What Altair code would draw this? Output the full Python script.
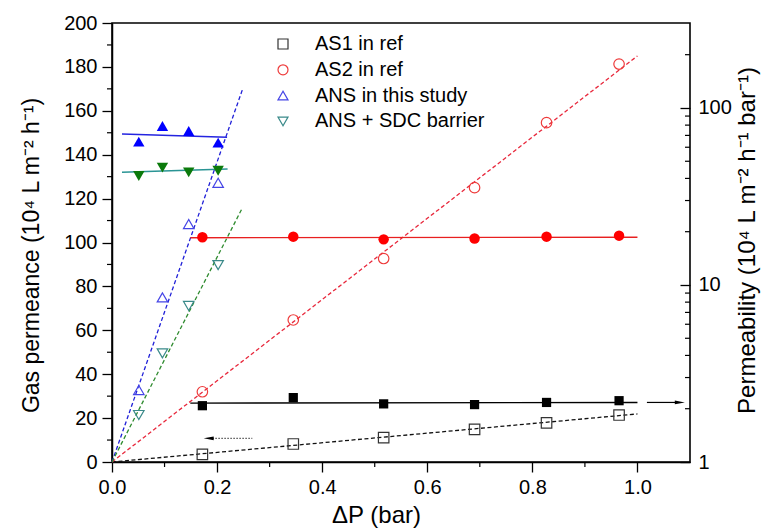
import altair as alt
import pandas as pd

# ---------------- data ----------------
series_names = ["AS1 in ref", "AS2 in ref", "ANS in this study", "ANS + SDC barrier"]

dp_as = [0.172, 0.345, 0.517, 0.690, 0.827, 0.965]
dp_ans = [0.051, 0.096, 0.146, 0.202]

# gas permeance (left axis, open symbols)
as1_permeance = [3.5, 8.2, 11.1, 14.9, 17.8, 21.4]
as2_permeance = [32.0, 64.7, 92.7, 125.0, 154.6, 181.3]
ans_permeance = [32.8, 75.0, 108.4, 127.2]
sdc_permeance = [21.4, 49.5, 71.1, 89.7]

# permeability (right log axis, filled symbols)
as1_permeability = [2.08, 2.31, 2.13, 2.11, 2.17, 2.22]
as2_permeability = [18.6, 18.75, 18.1, 18.3, 18.75, 19.0]
ans_permeability = [64.5, 79.1, 74.1, 63.7]
sdc_permeability = [41.3, 46.0, 43.3, 44.2]

# dashed linear fits through origin (left axis)
fit_x = [[0.0, 1.0], [0.0, 1.0], [0.0, 0.248], [0.0, 0.248]]
fit_y = [[0.0, 21.9], [0.0, 185.0], [0.0, 169.5], [0.0, 115.7]]

# flat fits of permeability (right axis)
flat_x = [[0.149, 1.0], [0.149, 1.0], [0.019, 0.219], [0.019, 0.22]]
flat_y = [[2.15, 2.17], [18.5, 18.6], [71.3, 68.3], [43.3, 45.2]]

# arrows pointing to the axes
arrow_left_x = [0.267, 0.191]
arrow_left_y = [10.8, 10.8]
arrow_left_head = [0.184]
arrow_right_x = [1.018, 1.075]
arrow_right_y = [2.17, 2.17]
arrow_right_head = [1.0806]

left_ticks = [0, 20, 40, 60, 80, 100, 120, 140, 160, 180, 200]
left_minor = [10, 30, 50, 70, 90, 110, 130, 150, 170, 190]
x_ticks = [0.0, 0.2, 0.4, 0.6, 0.8, 1.0]
x_minor = [0.1, 0.3, 0.5, 0.7, 0.9]
right_ticks = [1, 10, 100]
right_minor = [2, 3, 4, 5, 6, 7, 8, 9, 20, 30, 40, 50, 60, 70, 80, 90, 200]

# ---------------- styles ----------------
open_colors = ["#333333", "#EE3B3B", "#4545E6", "#3A8A8A"]
open_shapes = ["square", "circle", "triangle-up", "triangle-down"]
fit_colors = ["#111111", "#E8283C", "#2020D8", "#2E8B2E"]
fill_colors = ["#000000", "#FF0000", "#0000FF", "#0B7A0B"]
flat_colors = ["#000000", "#E82020", "#2424E0", "#2A9494"]
fill_sizes = [85, 110, 130, 130]

W, H = 578, 439
FONT = "Liberation Sans"

xs = alt.Scale(domain=[0, 1.1], nice=False, zero=False)
yL = alt.Scale(domain=[0, 200], nice=False, zero=False)
yR = alt.Scale(type="log", domain=[1, 302], nice=False)

xs_list = [dp_as, dp_as, dp_ans, dp_ans]
perm_list = [as1_permeance, as2_permeance, ans_permeance, sdc_permeance]
pb_list = [as1_permeability, as2_permeability, ans_permeability, sdc_permeability]

open_df = pd.concat(
    [pd.DataFrame({"dp": xs_list[i], "val": perm_list[i], "series": series_names[i]}) for i in range(4)],
    ignore_index=True,
)

x_axis = alt.Axis(
    values=x_ticks, format=".1f", tickSize=10, tickWidth=1.3, tickColor="black",
    labelFontSize=20, labelColor="black", labelPadding=5, labelFont=FONT, labelFlush=False,
    domainColor="black", domainWidth=1.5,
    title="ΔP (bar)", titleFontSize=24, titleFont=FONT, titleFontWeight="normal",
    titleColor="black", titleX=264, titleY=53, titleBaseline="middle", titleAlign="center",
)
yl_axis = alt.Axis(
    values=left_ticks, tickSize=10, tickWidth=1.3, tickColor="black",
    labelFontSize=20, labelColor="black", labelPadding=5, labelFont=FONT, labelFlush=False,
    domainColor="black", domainWidth=1.5,
    title="Gas permeance (10⁴ L m⁻² h⁻¹)", titleFontSize=23, titleFont=FONT,
    titleFontWeight="normal", titleColor="black", titleAngle=270,
    titleX=-81, titleY=232, titleBaseline="middle", titleAlign="center",
)
yr_axis = alt.Axis(
    orient="right", values=right_ticks, format="d", offset=-10, domain=False,
    tickSize=10, tickWidth=1.3, tickColor="black",
    labelFontSize=20, labelColor="black", labelPadding=8, labelFont=FONT, labelFlush=False,
    title="Permeability (10⁴ L m⁻² h⁻¹ bar⁻¹)", titleFontSize=24, titleFont=FONT,
    titleFontWeight="normal", titleColor="black", titleAngle=270,
    titleX=67, titleY=217, titleBaseline="middle", titleAlign="center",
)

X = alt.X("dp:Q", scale=xs, axis=x_axis)
YL = alt.Y("val:Q", scale=yL, axis=yl_axis)
YR = alt.Y("val:Q", scale=yR, axis=yr_axis)

# ---------------- left (permeance) layers ----------------
open_pts = alt.Chart(open_df).mark_point(filled=False, size=110, strokeWidth=1.2, opacity=1).encode(
    x=X, y=YL,
    color=alt.Color("series:N", scale=alt.Scale(domain=series_names, range=open_colors),
                    legend=alt.Legend(orient="none", legendX=161, legendY=11, title=None,
                                      labelFontSize=20, labelFont=FONT, labelColor="black",
                                      labelLimit=400, symbolSize=100, symbolStrokeWidth=1.2,
                                      rowPadding=5.8, labelOffset=22, padding=0)),
    shape=alt.Shape("series:N", scale=alt.Scale(domain=series_names, range=open_shapes)),
)

left_layers = []
for i in range(4):
    d = pd.DataFrame({"dp": fit_x[i], "val": fit_y[i]})
    left_layers.append(
        alt.Chart(d).mark_line(strokeDash=[4, 2.5], strokeWidth=1.3, color=fit_colors[i]).encode(x=X, y=YL)
    )

arrow_l = alt.Chart(pd.DataFrame({"dp": arrow_left_x, "val": arrow_left_y})).mark_line(
    strokeDash=[1.5, 1.5], strokeWidth=1.2, color="#555555"
).encode(x=X, y=YL)
arrow_l_head = alt.Chart(pd.DataFrame({"dp": arrow_left_head, "val": arrow_left_y[:1]})).mark_point(
    shape="M 1 -0.38 L -1 0 L 1 0.38 Z", filled=True, size=100, color="black", opacity=1
).encode(x=X, y=YL)

left_minor_ticks = alt.Chart(pd.DataFrame({"val": left_minor})).mark_rule(color="black", strokeWidth=1.2).encode(
    y=YL, x=alt.value(-5), x2=alt.value(0)
)
bottom_minor_ticks = alt.Chart(pd.DataFrame({"dp": x_minor})).mark_rule(color="black", strokeWidth=1.2).encode(
    x=X, y=alt.value(H), y2=alt.value(H + 5)
)

left = alt.layer(*left_layers, arrow_l, arrow_l_head, left_minor_ticks, bottom_minor_ticks, open_pts)

# ---------------- right (permeability) layers ----------------
right_layers = []
for i in range(4):
    d = pd.DataFrame({"dp": flat_x[i], "val": flat_y[i]})
    right_layers.append(
        alt.Chart(d).mark_line(strokeWidth=1.4, color=flat_colors[i]).encode(x=X, y=YR)
    )
for i in range(4):
    d = pd.DataFrame({"dp": xs_list[i], "val": pb_list[i]})
    right_layers.append(
        alt.Chart(d).mark_point(filled=True, shape=open_shapes[i], size=fill_sizes[i],
                                color=fill_colors[i], opacity=1).encode(x=X, y=YR)
    )

arrow_r = alt.Chart(pd.DataFrame({"dp": arrow_right_x, "val": arrow_right_y})).mark_line(
    strokeWidth=1.2, color="black"
).encode(x=X, y=YR)
arrow_r_head = alt.Chart(pd.DataFrame({"dp": arrow_right_head, "val": arrow_right_y[:1]})).mark_point(
    shape="M -1 -0.38 L 1 0 L -1 0.38 Z", filled=True, size=100, color="black", opacity=1
).encode(x=X, y=YR)

right_minor_ticks = alt.Chart(pd.DataFrame({"val": right_minor})).mark_rule(color="black", strokeWidth=1.2).encode(
    y=YR, x=alt.value(W - 5), x2=alt.value(W)
)

right = alt.layer(*right_layers, arrow_r, arrow_r_head, right_minor_ticks)

chart = (
    alt.layer(left, right)
    .resolve_scale(y="independent")
    .properties(
        width=W, height=H, autosize="none",
        padding={"left": 112, "top": 23, "right": 764 - 112 - W, "bottom": 529 - 23 - H},
        background="white",
    )
    .configure_view(stroke="black", strokeWidth=1.6)
    .configure_axis(grid=False)
)

chart.save("out.html", embed_options={"renderer": "svg", "actions": False})
